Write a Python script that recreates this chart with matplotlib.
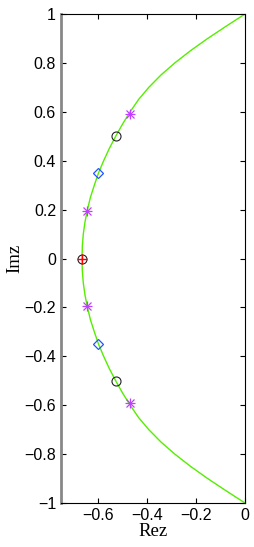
import matplotlib
matplotlib.use("Agg")
import matplotlib.pyplot as plt
from matplotlib.ticker import FuncFormatter

# curve (upper half, top to bottom, then lower half)
curve_y = [1.00, 0.95, 0.90, 0.85, 0.80, 0.75, 0.70, 0.65, 0.60, 0.55, 0.50,
           0.45, 0.40, 0.35, 0.30, 0.25, 0.20, 0.15, 0.10, 0.05, 0.00,
           -0.05, -0.10, -0.15, -0.20, -0.25, -0.30, -0.35, -0.40, -0.45, -0.50,
           -0.55, -0.60, -0.65, -0.70, -0.75, -0.80, -0.85, -0.90, -0.95, -1.00]
curve_x = [0.000, -0.077, -0.152, -0.222, -0.286, -0.343, -0.392, -0.434, -0.468, -0.499, -0.527,
           -0.553, -0.576, -0.597, -0.614, -0.630, -0.642, -0.652, -0.659, -0.663, -0.664,
           -0.663, -0.659, -0.652, -0.642, -0.630, -0.614, -0.597, -0.576, -0.553, -0.527,
           -0.499, -0.468, -0.434, -0.392, -0.343, -0.286, -0.222, -0.152, -0.077, 0.000]

# marked points
star_x = [-0.469, -0.645, -0.645, -0.469]
star_y = [0.590, 0.194, -0.194, -0.590]
circ_x = [-0.526, -0.664, -0.526]
circ_y = [0.502, 0.0, -0.502]
diam_x = [-0.600, -0.600]
diam_y = [0.348, -0.348]
plus_x = [-0.664]
plus_y = [0.0]

x_ticks = [-0.6, -0.4, -0.2, 0]
y_ticks = [-1, -0.8, -0.6, -0.4, -0.2, 0, 0.2, 0.4, 0.6, 0.8, 1]

fig = plt.figure(figsize=(2.54, 5.47), dpi=100)
ax = fig.add_axes([0.240, 0.0804, 0.7246, 0.894])

ax.plot(curve_x, curve_y, color="#55ee00", lw=1.0, zorder=2)
# matlab-style asterisk = plus + cross
ax.plot(star_x, star_y, ls="none", marker="+", ms=7, mew=0.9, color="#c040ff", zorder=3)
ax.plot(star_x, star_y, ls="none", marker="x", ms=5.5, mew=0.9, color="#c040ff", zorder=3)
ax.plot(diam_x, diam_y, ls="none", marker="D", ms=5, mfc="none", mec="#2255ff", mew=0.9, zorder=3)
ax.plot(circ_x, circ_y, ls="none", marker="o", ms=6.5, mfc="none", mec="#222222", mew=0.8, zorder=3)
ax.plot(plus_x, plus_y, ls="none", marker="+", ms=6.5, mew=1.0, color="red", zorder=4)

ax.set_xlim(-0.75, 0)
ax.set_ylim(-1, 1)
ax.set_xticks(x_ticks)
ax.set_yticks(y_ticks)
fmt = FuncFormatter(lambda v, p: ("%g" % v).replace("-", "\u2212"))
ax.xaxis.set_major_formatter(fmt)
ax.yaxis.set_major_formatter(fmt)
ax.tick_params(direction="in", top=True, right=True, length=3.5, width=0.8,
               labelsize=11.5, pad=3.5)
for lab in ax.get_xticklabels() + ax.get_yticklabels():
    lab.set_fontfamily("Liberation Sans")

for s in ["top", "right", "bottom"]:
    ax.spines[s].set_color("black")
    ax.spines[s].set_linewidth(0.8)
ax.spines["left"].set_color("#888888")
ax.spines["left"].set_linewidth(2.0)

ax.set_xlabel("Rez", fontfamily="Liberation Serif", fontsize=13.5, labelpad=0)
ax.set_ylabel("Imz", fontfamily="Liberation Serif", fontsize=13.5, labelpad=1)

fig.savefig("out.png", dpi=100)
